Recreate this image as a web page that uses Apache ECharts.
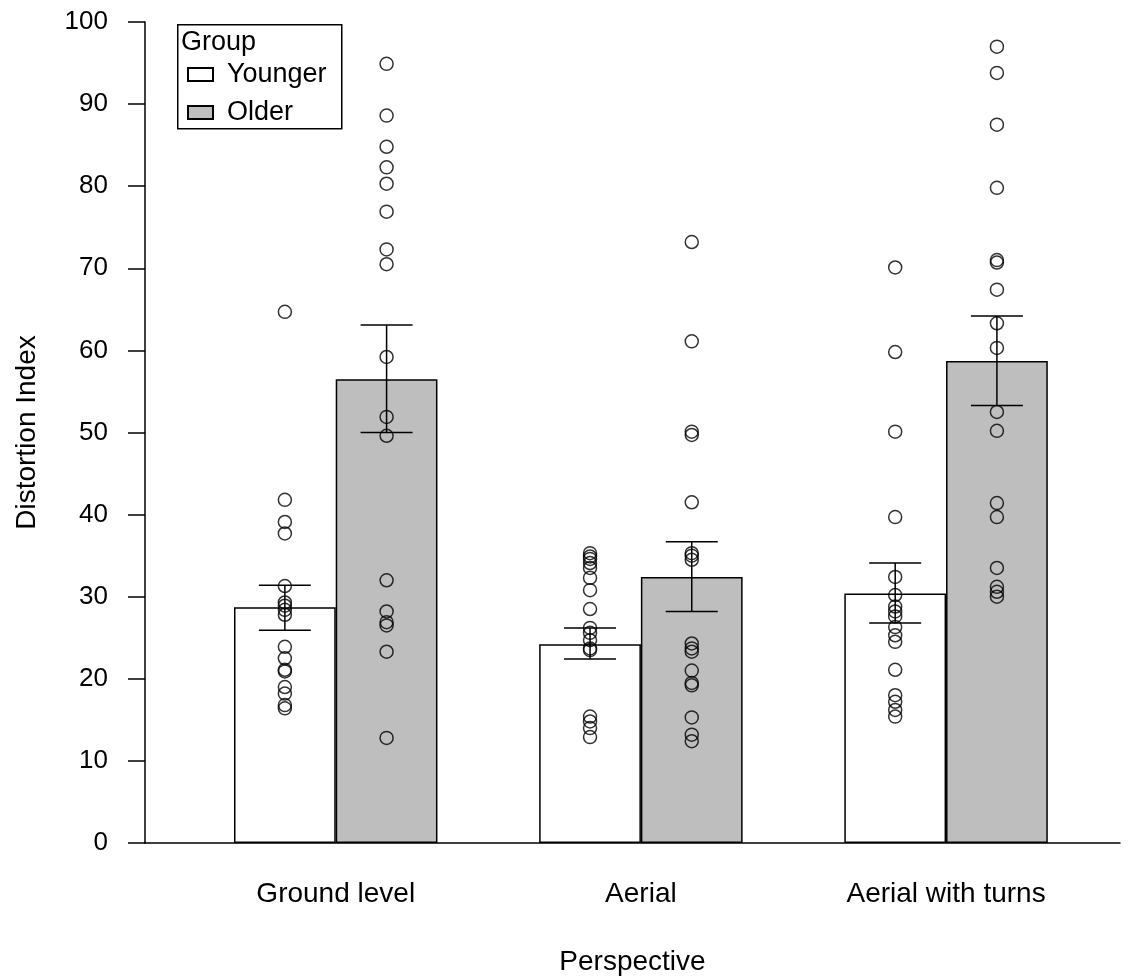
<!DOCTYPE html>
<html>
<head>
<meta charset="utf-8">
<script src="https://cdn.jsdelivr.net/npm/echarts@6/dist/echarts.min.js"></script>
<style>
  html, body { margin: 0; padding: 0; background: #fff; }
  #chart { width: 1129px; height: 979px; }
</style>
</head>
<body>
<div id="chart"></div>
<script>
const categories = ["Ground level", "Aerial", "Aerial with turns"];
const groups = ["Younger", "Older"];

const youngerMean = [28.7, 24.2, 30.4];
const youngerLow = [25.9, 22.4, 26.8];
const youngerHigh = [31.4, 26.2, 34.1];
const olderMean = [56.5, 32.4, 58.7];
const olderLow = [50.0, 28.2, 53.3];
const olderHigh = [63.1, 36.7, 64.2];

const youngerGround = [64.7, 41.8, 39.1, 37.7, 31.3, 29.3, 28.9, 28.4, 27.8, 23.9, 22.5, 21.1, 20.9, 19.0, 18.2, 16.8, 16.4];
const youngerAerial = [35.3, 34.9, 34.6, 34.1, 33.5, 32.3, 30.8, 28.5, 26.2, 25.6, 24.7, 23.7, 23.5, 15.4, 14.8, 14.0, 12.9];
const youngerTurns = [70.1, 59.8, 50.1, 39.7, 32.4, 30.2, 28.8, 28.2, 27.6, 26.3, 25.3, 24.5, 21.1, 18.0, 17.2, 16.2, 15.4];
const olderGround = [94.9, 88.6, 84.8, 82.3, 80.3, 76.9, 72.3, 70.5, 59.2, 51.9, 49.6, 32.0, 28.2, 26.9, 26.5, 23.3, 12.8];
const olderAerial = [73.2, 61.1, 50.1, 49.7, 41.5, 35.3, 35.0, 34.5, 24.3, 23.7, 23.3, 21.0, 19.5, 19.2, 15.3, 13.2, 12.4];
const olderTurns = [97.0, 93.8, 87.5, 79.8, 71.0, 70.7, 67.4, 63.3, 60.3, 52.5, 50.2, 41.4, 39.7, 33.5, 31.2, 30.6, 30.0];

const yTicks = [0, 10, 20, 30, 40, 50, 60, 70, 80, 90, 100];

// barplot coordinates: each group takes 2 bars + 1 space
function groupCenter(i) { return 2 + 3 * i; }
function youngerX(i) { return groupCenter(i) - 0.5; }
function olderX(i) { return groupCenter(i) + 0.5; }

const font = "'Liberation Sans', Arial, Helvetica, sans-serif";
const tickFs = 26;
const labFs = 28;
const legFs = 27;
const lw = 1.5;
const chart = echarts.init(document.getElementById("chart"));

const barData = (means, xf) => means.map((v, i) => [xf(i), v]);
const errData = (lo, hi, xf) => lo.map((v, i) => [xf(i), v, hi[i]]);
const pointData = [];
[youngerGround, youngerAerial, youngerTurns].forEach((vals, i) => vals.forEach((v) => pointData.push([youngerX(i), v])));
[olderGround, olderAerial, olderTurns].forEach((vals, i) => vals.forEach((v) => pointData.push([olderX(i), v])));

function renderErr(params, api) {
  const top = api.coord([api.value(0), api.value(2)]);
  const bot = api.coord([api.value(0), api.value(1)]);
  const half = 26;
  const style = { stroke: "#000", lineWidth: lw };
  return {
    type: "group",
    children: [
      { type: "line", shape: { x1: top[0], y1: top[1], x2: bot[0], y2: bot[1] }, style },
      { type: "line", shape: { x1: top[0] - half, y1: top[1], x2: top[0] + half, y2: top[1] }, style },
      { type: "line", shape: { x1: bot[0] - half, y1: bot[1], x2: bot[0] + half, y2: bot[1] }, style },
    ],
  };
}

chart.setOption({
  animation: false,
  textStyle: { fontFamily: font, color: "#000" },
  grid: { left: 145, right: 9, top: 22, bottom: 136, containLabel: false, outerBoundsMode: "none" },
  xAxis: {
    type: "value",
    min: 0.125,
    max: 9.71,
    splitLine: { show: false },
    axisLine: { show: true, lineStyle: { color: "#000", width: lw } },
    axisTick: { show: false },
    axisLabel: {
      customValues: [groupCenter(0), groupCenter(1), groupCenter(2)],
      formatter: (v) => categories[Math.round((v - 2) / 3)],
      fontSize: labFs,
      color: "#000",
      margin: 37,
      fontFamily: font,
    },
    name: "Perspective",
    nameLocation: "middle",
    nameGap: 105,
    nameTextStyle: { fontSize: labFs, color: "#000", fontFamily: font },
  },
  yAxis: {
    type: "value",
    min: 0,
    max: 100,
    interval: 10,
    splitLine: { show: false },
    axisLine: { show: true, lineStyle: { color: "#000", width: lw } },
    axisTick: { show: true, inside: false, length: 17, lineStyle: { color: "#000", width: lw } },
    axisLabel: {
      customValues: yTicks,
      fontSize: tickFs,
      color: "#000",
      margin: 37,
      fontFamily: font,
    },
    name: "Distortion Index",
    nameLocation: "middle",
    nameGap: 104,
    nameRotate: 90,
    nameTextStyle: { fontSize: labFs, color: "#000", fontFamily: font },
  },
  legend: {
    orient: "vertical",
    left: 187,
    top: 61,
    padding: 0,
    itemGap: 11,
    itemWidth: 25,
    itemHeight: 13,
    icon: "rect",
    data: groups,
    textStyle: { fontSize: legFs, color: "#000", fontFamily: font, padding: [0, 0, 0, 9] },
  },
  graphic: [
    {
      type: "rect",
      left: 177,
      top: 24,
      shape: { width: 164, height: 104 },
      style: { fill: "#fff", stroke: "#000", lineWidth: lw },
      z: -1,
    },
    {
      type: "text",
      left: 181,
      top: 29,
      style: { text: "Group", fontSize: legFs, fill: "#000", fontFamily: font },
    },
  ],
  series: [
    {
      name: "Younger",
      type: "bar",
      barWidth: 101.75,
      barGap: "-100%",
      itemStyle: { color: "#ffffff", borderColor: "#000", borderWidth: lw },
      data: barData(youngerMean, youngerX),
      z: 2,
    },
    {
      name: "Older",
      type: "bar",
      barWidth: 101.75,
      barGap: "-100%",
      itemStyle: { color: "#bebebe", borderColor: "#000", borderWidth: lw },
      data: barData(olderMean, olderX),
      z: 2,
    },
    {
      type: "custom",
      renderItem: renderErr,
      data: errData(youngerLow, youngerHigh, youngerX).concat(errData(olderLow, olderHigh, olderX)),
      z: 4,
    },
    {
      type: "scatter",
      symbol: "circle",
      symbolSize: 13,
      itemStyle: { color: "rgba(0,0,0,0)", borderColor: "#000", borderWidth: lw },
      data: pointData,
      z: 5,
    },
  ],
});
</script>
</body>
</html>
